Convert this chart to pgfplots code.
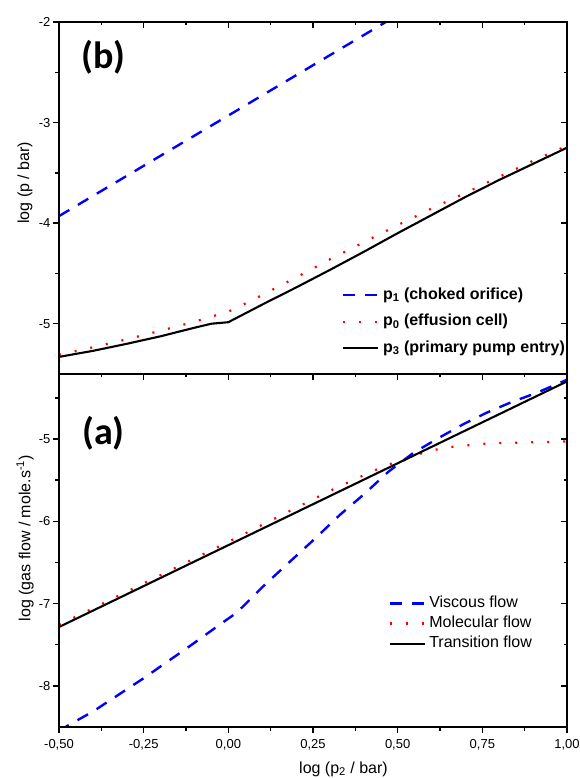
\documentclass[border=0pt]{standalone}
\usepackage{pgfplots}
\pgfplotsset{compat=1.18}
\usepackage{fontspec}
\setmainfont{Liberation Sans}
\newfontfamily\panelfont{Carlito}

\pgfplotsset{
  myaxis/.style={
    scale only axis, width=508pt,
    xmin=-0.5, xmax=1.0,
    xtick={-0.5,-0.25,0,0.25,0.5,0.75,1.0},
    minor xtick={-0.375,-0.125,0.125,0.375,0.625,0.875},
    axis line style={line width=1.6pt},
    every tick/.style={black, line width=1.3pt},
    major tick length=6pt, minor tick length=3.5pt,
    tick label style={font=\fontsize{13}{15}\selectfont},
    legend image code/.code={\draw[##1] (0pt,0pt) -- (35pt,0pt);},
  },
  overlayaxis/.style={
    myaxis, xtick pos=right, ytick pos=right, tick align=inside,
    xticklabels={}, yticklabels={},
  },
  blueline/.style={blue, line width=2.4pt, dash pattern=on 12pt off 10pt},
  redline/.style={red, line width=2.2pt, dash pattern=on 2pt off 14pt},
  blackline/.style={black, line width=2.1pt},
}

\begin{document}
\begin{tikzpicture}
\path[use as bounding box] (-59pt,-51pt) rectangle (520pt,727pt);

% ---------------- bottom panel (a)
\begin{axis}[myaxis, at={(0pt,0pt)}, anchor=south west, height=353pt,
  ymin=-8.5, ymax=-4.21,
  ytick={-8,-7,-6,-5}, yticklabels={-8,-7,-6,-5},
  minor ytick={-7.5,-6.5,-5.5,-4.5},
  xticklabels={{-0,50},{-0,25},{0,00},{0,25},{0,50},{0,75},{1,00}},
  xtick pos=left, ytick pos=left, tick align=outside,
  xticklabel style={yshift=-3pt},
  yticklabel style={xshift=1pt},
  xlabel={log (p\textsubscript{2} / bar)},
  ylabel={log (gas flow / mole.s\textsuperscript{-1})},
  every axis x label/.style={at={(axis description cs:0.56,0)}, anchor=base, yshift=-46pt, font=\fontsize{16}{19}\selectfont},
  every axis y label/.style={at={(axis description cs:-0.067,0.535)}, rotate=90, anchor=center, font=\fontsize{16}{19}\selectfont},
  legend style={draw=none, fill=none, font=\fontsize{16}{19}\selectfont,
    at={(0.648,0.375)}, anchor=north west, inner sep=0pt, row sep=2.5pt,
    nodes={inner sep=1pt, text height=11.5pt, text depth=4pt},
    /tikz/every odd column/.append style={column sep=2.5pt}},
  legend cell align=left,
]
\addplot[blueline] coordinates {
(-0.5,-8.56) (-0.477,-8.49) (-0.399,-8.31) (-0.251,-7.91) (-0.108,-7.50)
(-0.020,-7.24) (0.025,-7.11) (0.108,-6.77) (0.182,-6.49) (0.256,-6.21)
(0.330,-5.92) (0.401,-5.67) (0.472,-5.40) (0.546,-5.17) (0.620,-4.99)
(0.694,-4.82) (0.763,-4.68) (0.837,-4.55) (0.910,-4.44) (1.0,-4.28)};
\addlegendentry{Viscous flow}
\addplot[redline] coordinates {
(-0.5,-7.26) (0,-6.25) (0.3,-5.63) (0.4,-5.44) (0.45,-5.35) (0.5,-5.27)
(0.55,-5.20) (0.6,-5.14) (0.65,-5.10) (0.7,-5.08) (0.75,-5.06) (0.8,-5.05)
(0.9,-5.04) (1.0,-5.03)};
\addlegendentry{Molecular flow}
\addplot[blackline] coordinates {
(-0.5,-7.285) (0,-6.29) (0.5,-5.295) (1.0,-4.30)};
\addlegendentry{Transition flow}
\node[font=\panelfont\bfseries\fontsize{38}{40}\selectfont] at (rel axis cs:0.0876,0.833) {(a)};
\end{axis}
\begin{axis}[overlayaxis, at={(0pt,0pt)}, anchor=south west, height=353pt,
  ymin=-8.5, ymax=-4.21, ytick={-8,-7,-6,-5}, minor ytick={-7.5,-6.5,-5.5,-4.5}]
\end{axis}

% ---------------- top panel (b)
\begin{axis}[myaxis, at={(0pt,353pt)}, anchor=south west, height=352pt,
  ymin=-5.5, ymax=-2,
  ytick={-5,-4,-3,-2}, yticklabels={-5,-4,-3,-2},
  minor ytick={-4.5,-3.5,-2.5},
  xticklabels={},
  xtick pos=left, ytick pos=left, tick align=outside,
  yticklabel style={xshift=1pt},
  ylabel={log (p / bar)},
  every axis y label/.style={at={(axis description cs:-0.067,0.543)}, rotate=90, anchor=center, font=\fontsize{16}{19}\selectfont},
  legend style={draw=none, fill=none, font=\fontsize{16}{19}\selectfont\bfseries,
    at={(0.557,0.249)}, anchor=north west, inner sep=0pt, row sep=9pt,
    nodes={inner sep=1pt, text height=11.5pt, text depth=4pt},
    /tikz/every odd column/.append style={column sep=2.5pt}},
  legend cell align=left,
]
\addplot[blueline] coordinates {
(-0.5,-3.93) (-0.25,-3.43) (0,-2.93) (0.25,-2.43) (0.5,-1.93)};
\addlegendentry{p\textsubscript{1} (choked orifice)}
\addplot[redline] coordinates {
(-0.5,-5.31) (-0.4,-5.235) (-0.3,-5.155) (-0.2,-5.07) (-0.1,-4.98) (0,-4.88)
(0.05,-4.80) (0.1,-4.715) (0.2,-4.54) (0.3,-4.36) (0.4,-4.19) (0.5,-4.02)
(0.6,-3.855) (0.7,-3.70) (0.8,-3.54) (0.9,-3.38) (1.0,-3.23)};
\addlegendentry{p\textsubscript{0} (effusion cell)}
\addplot[blackline] coordinates {
(-0.5,-5.33) (-0.4,-5.27) (-0.3,-5.20) (-0.2,-5.125) (-0.1,-5.04) (-0.05,-5.0)
(0,-4.985) (0.1,-4.81) (0.2,-4.64) (0.3,-4.465) (0.4,-4.285) (0.5,-4.10)
(0.6,-3.92) (0.7,-3.74) (0.8,-3.57) (0.9,-3.41) (1.0,-3.25)};
\addlegendentry{p\textsubscript{3} (primary pump entry)}
\node[font=\panelfont\bfseries\fontsize{38}{40}\selectfont] at (rel axis cs:0.0876,0.899) {(b)};
\end{axis}
\begin{axis}[overlayaxis, at={(0pt,353pt)}, anchor=south west, height=352pt,
  ymin=-5.5, ymax=-2, ytick={-5,-4,-3,-2}, minor ytick={-4.5,-3.5,-2.5}]
\end{axis}
\end{tikzpicture}
\end{document}
